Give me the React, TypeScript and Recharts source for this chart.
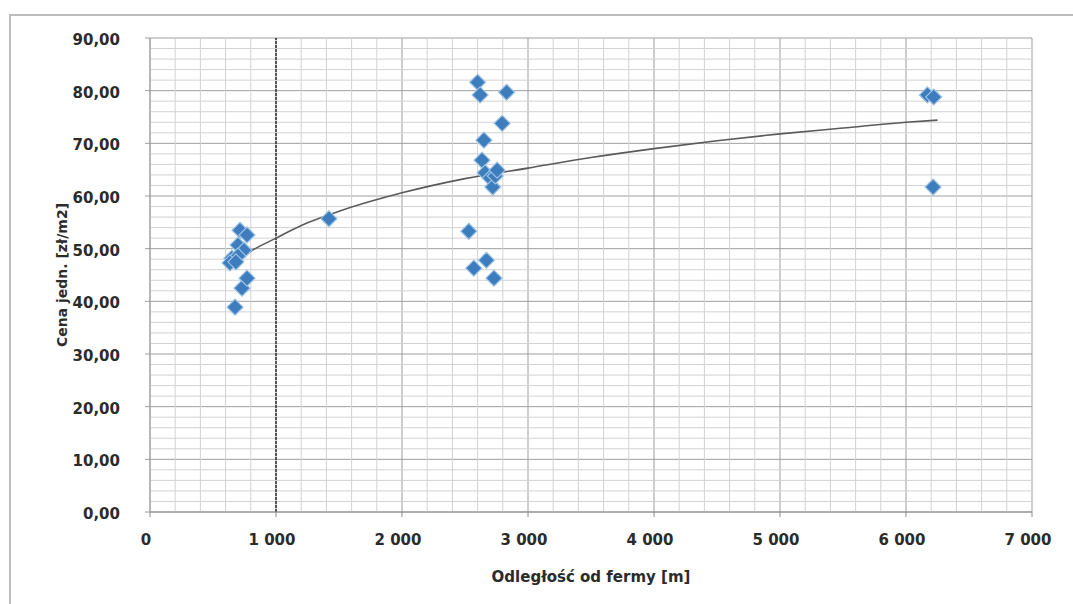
import React from 'react';
import { ScatterChart, Scatter, XAxis, YAxis, CartesianGrid, ReferenceLine, Label } from 'recharts';

// osie
const X_TICKS = [0, 1000, 2000, 3000, 4000, 5000, 6000, 7000];
const X_LABELS = ['0', '1 000', '2 000', '3 000', '4 000', '5 000', '6 000', '7 000'];
const Y_TICKS = [0, 10, 20, 30, 40, 50, 60, 70, 80, 90];
const Y_LABELS = ['0,00', '10,00', '20,00', '30,00', '40,00', '50,00', '60,00', '70,00', '80,00', '90,00'];

// transakcje: odległość od fermy [m] i cena jedn. [zł/m2]
const DIST = [
  675, 730, 770, 714, 770, 698, 746, 650, 698, 635, 682,
  1420,
  2530, 2570, 2670, 2730,
  2600, 2620, 2650, 2635, 2660, 2700, 2720, 2740, 2755, 2795, 2830,
  6170, 6220, 6215,
];
const PRICE = [
  38.9, 42.5, 44.4, 53.5, 52.6, 50.7, 49.7, 48.2, 48.6, 47.3, 47.5,
  55.7,
  53.3, 46.3, 47.8, 44.4,
  81.6, 79.2, 70.6, 66.8, 64.4, 63.4, 61.7, 63.8, 64.9, 73.8, 79.7,
  79.2, 78.8, 61.7,
];

// linia trendu (logarytmiczna)
const TREND_X = [700, 800, 1000, 1250, 1500, 2000, 2500, 3000, 3500, 4000, 4500, 5000, 5500, 6000, 6250];
const TREND_Y = [47.8, 49.5, 52.0, 54.9, 57.1, 60.6, 63.3, 65.3, 67.3, 69.0, 70.5, 71.8, 72.9, 74.0, 74.4];

const points = DIST.map((x, i) => ({ x, y: PRICE[i] }));
const trend = TREND_X.map((x, i) => ({ x, y: TREND_Y[i] }));

// pomocnicze linie siatki co 200 m i co 2 zł
const minorX = X_TICKS.slice(0, -1).flatMap((t) => [200, 400, 600, 800].map((d) => t + d));
const minorY = Y_TICKS.slice(0, -1).flatMap((t) => [2, 4, 6, 8].map((d) => t + d));

const FONT = '"DejaVu Sans", sans-serif';

function Diamond({ cx, cy }: any) {
  const r = 8;
  return (
    <polygon
      points={`${cx},${cy - r} ${cx + r},${cy} ${cx},${cy + r} ${cx - r},${cy}`}
      fill="#3d7cbd"
      stroke="#9cc2e6"
      strokeWidth={1.2}
    />
  );
}

function XTick({ x, y, payload }: any) {
  const i = X_TICKS.indexOf(payload.value);
  return (
    <text x={x - 4} y={y + 23} textAnchor="middle" dominantBaseline="central"
          fontFamily={FONT} fontWeight="bold" fontSize={15} fill="#2b2b2b">
      {X_LABELS[i]}
    </text>
  );
}

function YTick({ x, y, payload }: any) {
  const i = Y_TICKS.indexOf(payload.value);
  return (
    <text x={x - 25} y={y + 2} textAnchor="end" dominantBaseline="central"
          fontFamily={FONT} fontWeight="bold" fontSize={15} fill="#2b2b2b">
      {Y_LABELS[i]}
    </text>
  );
}

export default function App() {
  return (
    <div style={{ position: 'absolute', left: 0, top: 0, width: 1073, height: 604, background: '#fff', overflow: 'hidden' }}>
      {/* ramka wykresu */}
      <div style={{ position: 'absolute', left: 9, top: 14, width: 1100, height: 640, border: '2px solid #bdbdbd' }} />
      <div style={{ position: 'absolute', left: 0, top: 0 }}>
        <ScatterChart width={1073} height={604} margin={{ top: 38, right: 41, bottom: 0, left: 0 }}>
          <CartesianGrid stroke="#9e9e9e" />
          {minorX.map((v) => (
            <ReferenceLine key={'mx' + v} x={v} stroke="#d2d2d2" strokeWidth={1} />
          ))}
          {minorY.map((v) => (
            <ReferenceLine key={'my' + v} y={v} stroke="#d2d2d2" strokeWidth={1} />
          ))}
          <XAxis type="number" dataKey="x" domain={[0, 7000]} ticks={X_TICKS} height={92}
                 tick={<XTick />} tickSize={5} tickMargin={0}
                 axisLine={{ stroke: '#8c8c8c' }} tickLine={{ stroke: '#8c8c8c' }}>
            <Label
              content={({ viewBox }: any) => (
                <text x={viewBox.x + viewBox.width / 2} y={577} textAnchor="middle" dominantBaseline="central"
                      fontFamily={FONT} fontWeight="bold" fontSize={15} fill="#2b2b2b">
                  Odległość od fermy [m]
                </text>
              )}
            />
          </XAxis>
          <YAxis type="number" dataKey="y" domain={[0, 90]} ticks={Y_TICKS} width={150}
                 tick={<YTick />} tickSize={5} tickMargin={0}
                 axisLine={{ stroke: '#9e9e9e' }} tickLine={{ stroke: '#9e9e9e' }}>
            <Label
              content={() => (
                <text x={62} y={275} textAnchor="middle" dominantBaseline="central" transform="rotate(-90 62 275)"
                      fontFamily={FONT} fontWeight="bold" fontSize={14} fill="#2b2b2b">
                  Cena jedn. [zł/m2]
                </text>
              )}
            />
          </YAxis>
          <ReferenceLine x={1000} stroke="#3a3a3a" strokeWidth={1.6} strokeDasharray="3 1" />
          <Scatter data={trend} line={{ stroke: '#5a5a5a', strokeWidth: 1.6 }} lineJointType="monotoneX"
                   shape={() => <g />} isAnimationActive={false} />
          <Scatter data={points} shape={<Diamond />} isAnimationActive={false} />
        </ScatterChart>
      </div>
    </div>
  );
}
